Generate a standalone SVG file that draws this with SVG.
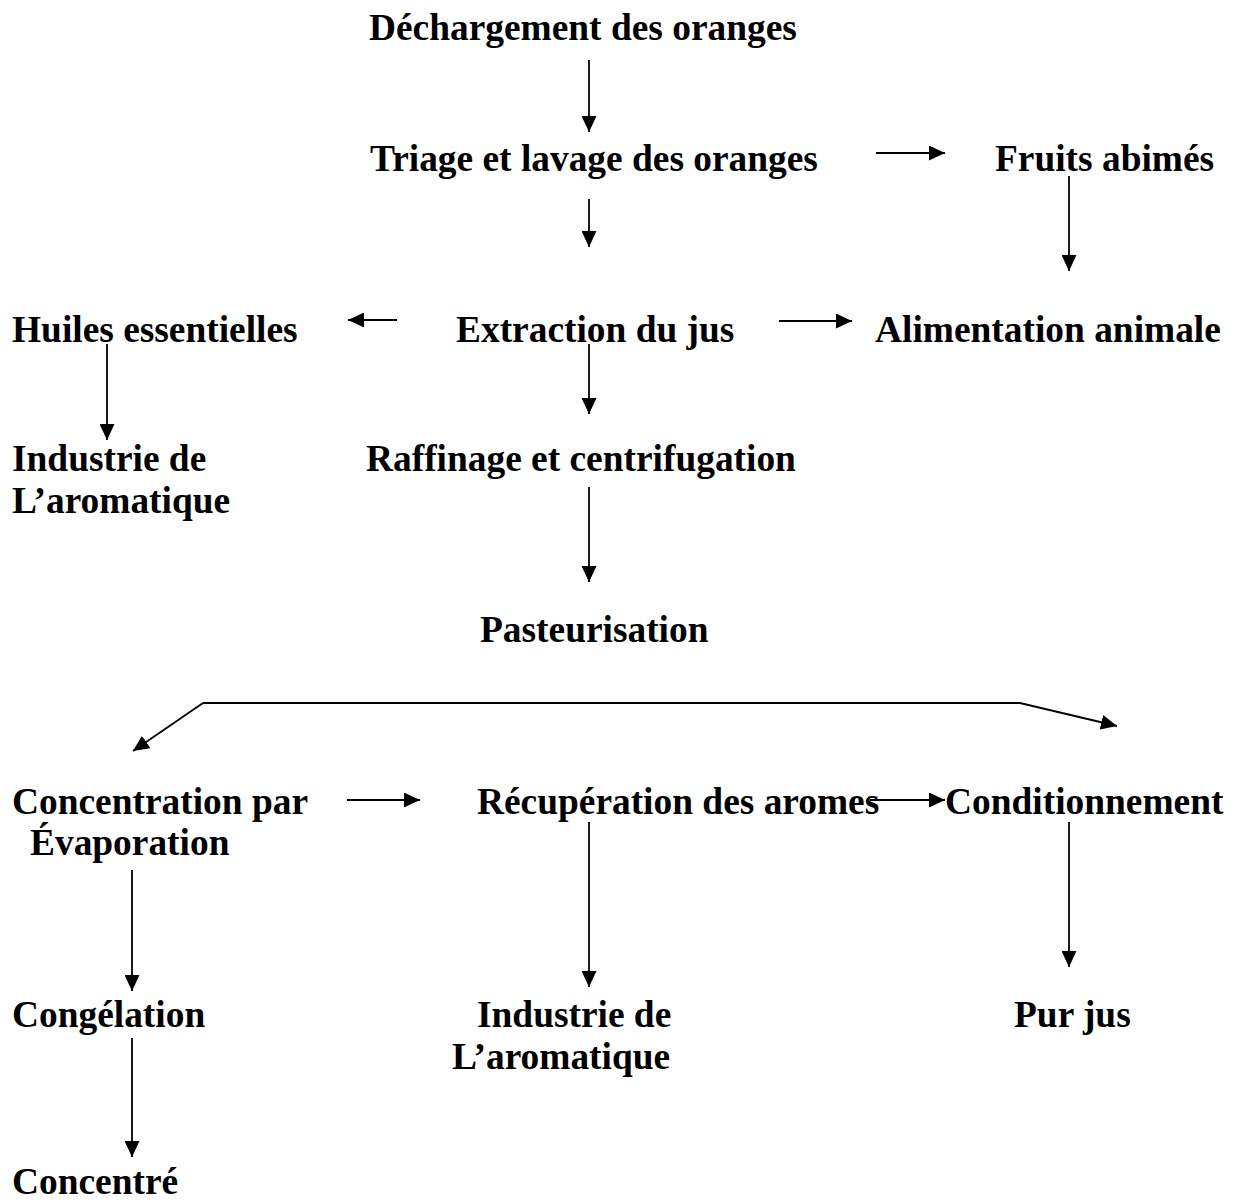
<svg xmlns="http://www.w3.org/2000/svg" width="1233" height="1203" viewBox="0 0 1233 1203">
<style>
text{font-family:"Liberation Serif","Times New Roman",serif;font-weight:bold;font-size:37.4px;fill:#000}
.c{fill:none;stroke:#000;stroke-width:1.8}
</style>
<defs>
<marker id="ah" markerUnits="userSpaceOnUse" markerWidth="17" markerHeight="15" refX="16" refY="7.5" orient="auto">
<path d="M0,0 L16,7.5 L0,15 z" fill="#000"/>
</marker>
</defs>
<rect width="1233" height="1203" fill="#fff"/>
<g id="n1"><text x="369" y="40">Déchargement des oranges</text></g>
<g id="n2"><text x="370" y="171">Triage et lavage des oranges</text></g>
<g id="n3"><text x="995" y="171">Fruits abimés</text></g>
<g id="n4"><text x="12" y="342">Huiles essentielles</text></g>
<g id="n5"><text x="456" y="342">Extraction du jus</text></g>
<g id="n6"><text x="875" y="342">Alimentation animale</text></g>
<g id="n7"><text x="12" y="471">Industrie de</text><text x="12" y="513">L’aromatique</text></g>
<g id="n8"><text x="366" y="471">Raffinage et centrifugation</text></g>
<g id="n9"><text x="480" y="642">Pasteurisation</text></g>
<g id="n10"><text x="12" y="814">Concentration par</text><text x="30" y="855">Évaporation</text></g>
<g id="n11"><text x="477" y="814">Récupération des aromes</text></g>
<g id="n12"><text x="945" y="814">Conditionnement</text></g>
<g id="n13"><text x="12" y="1027">Congélation</text></g>
<g id="n14"><text x="477" y="1027">Industrie de</text><text x="452" y="1069">L’aromatique</text></g>
<g id="n15"><text x="1014" y="1027">Pur jus</text></g>
<g id="n16"><text x="12" y="1194">Concentré</text></g>
<g id="connectors">
<line class="c" x1="589" y1="60" x2="589" y2="132" marker-end="url(#ah)"/>
<line class="c" x1="876" y1="153" x2="945" y2="153" marker-end="url(#ah)"/>
<line class="c" x1="1069" y1="176" x2="1069" y2="271" marker-end="url(#ah)"/>
<line class="c" x1="589" y1="199" x2="589" y2="247" marker-end="url(#ah)"/>
<line class="c" x1="397" y1="320" x2="348" y2="320" marker-end="url(#ah)"/>
<line class="c" x1="779" y1="321" x2="852" y2="321" marker-end="url(#ah)"/>
<line class="c" x1="107" y1="344" x2="107" y2="440" marker-end="url(#ah)"/>
<line class="c" x1="589" y1="344" x2="589" y2="414" marker-end="url(#ah)"/>
<line class="c" x1="589" y1="487" x2="589" y2="582" marker-end="url(#ah)"/>
<polyline class="c" points="203,703 1020,703 1117,726" marker-end="url(#ah)"/>
<line class="c" x1="203" y1="703" x2="133" y2="751" marker-end="url(#ah)"/>
<line class="c" x1="347" y1="800" x2="420" y2="800" marker-end="url(#ah)"/>
<line class="c" x1="870" y1="800" x2="945" y2="800" marker-end="url(#ah)"/>
<line class="c" x1="589" y1="822" x2="589" y2="987" marker-end="url(#ah)"/>
<line class="c" x1="1069" y1="822" x2="1069" y2="967" marker-end="url(#ah)"/>
<line class="c" x1="132" y1="870" x2="132" y2="991" marker-end="url(#ah)"/>
<line class="c" x1="132" y1="1038" x2="132" y2="1157" marker-end="url(#ah)"/>
</g>
</svg>
